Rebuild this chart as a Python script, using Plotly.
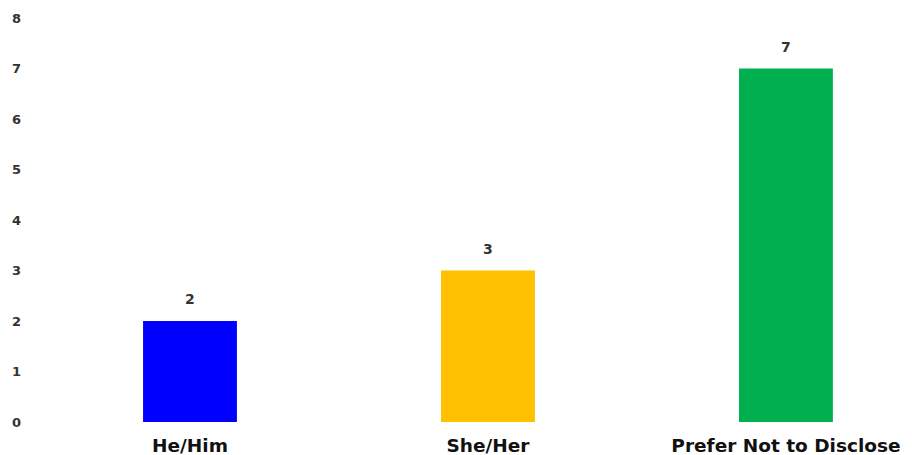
import plotly.graph_objects as go

categories = ["He/Him", "She/Her", "Prefer Not to Disclose"]
values = [2, 3, 7]
colors = ["#0000FF", "#FFC000", "#00B050"]
y_ticks = [0, 1, 2, 3, 4, 5, 6, 7, 8]

FONT = "DejaVu Sans"

fig = go.Figure()
fig.add_trace(go.Bar(
    x=categories, y=values, marker=dict(color=colors, line=dict(width=0)),
    width=0.315, hoverinfo="skip",
))
for c, v in zip(categories, values):
    fig.add_annotation(x=c, y=v, text=f"<b>{v}</b>", showarrow=False,
                       yshift=22, font=dict(family=FONT, size=14, color="#333333"))

fig.update_layout(
    width=912, height=455,
    margin=dict(l=41, r=0, t=18, b=33),
    plot_bgcolor="white", paper_bgcolor="white",
    showlegend=False,
    xaxis=dict(range=[-0.5, 2.423], showgrid=False, zeroline=False, showline=False,
               ticks="", ticklabelstandoff=10,
               tickfont=dict(family=FONT, size=18.5, color="#111111", weight="bold")),
    yaxis=dict(range=[0, 8], tickvals=y_ticks, showgrid=False, zeroline=False, showline=False,
               ticks="", ticklabelstandoff=19,
               tickfont=dict(family=FONT, size=13, color="#333333", weight="bold")),
)
fig.write_html("out.html")
